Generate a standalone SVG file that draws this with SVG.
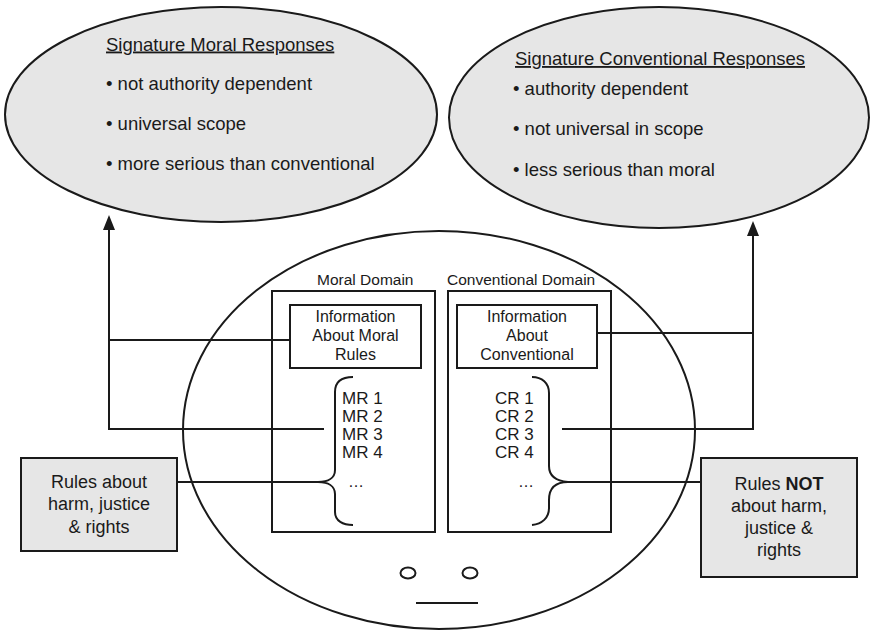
<svg xmlns="http://www.w3.org/2000/svg" width="873" height="630" viewBox="0 0 873 630">
<style>
text{font-family:"Liberation Sans",Arial,sans-serif;fill:#1a1a1a}
.big{font-size:18.5px}
.mid{font-size:16px}
.rule{font-size:17px}
.box{font-size:18px}
.shape{fill:none;stroke:#1a1a1a;stroke-width:2}
.grey{fill:#e6e6e6;stroke:#1a1a1a;stroke-width:2}
.conn{fill:none;stroke:#1a1a1a;stroke-width:2}
.head{fill:#1a1a1a;stroke:none}
</style>
<rect width="873" height="630" fill="#ffffff"/>

<g id="moral-responses">
<ellipse class="grey" cx="221" cy="114.5" rx="216" ry="107.5"/>
<text class="big" x="106" y="50.5" text-decoration="underline">Signature Moral Responses</text>
<text class="big" x="106" y="90">• not authority dependent</text>
<text class="big" x="106" y="130">• universal scope</text>
<text class="big" x="106" y="170">• more serious than conventional</text>
</g>

<g id="conventional-responses">
<ellipse class="grey" cx="659" cy="117.5" rx="210" ry="110.5"/>
<text class="big" x="515" y="65" text-decoration="underline">Signature Conventional Responses</text>
<text class="big" x="513" y="95">• authority dependent</text>
<text class="big" x="513" y="135">• not universal in scope</text>
<text class="big" x="513" y="176">• less serious than moral</text>
</g>

<g id="head">
<ellipse class="shape" cx="439" cy="430" rx="256" ry="199"/>
<ellipse class="shape" cx="408" cy="573" rx="7.5" ry="5.5"/>
<ellipse class="shape" cx="470" cy="573" rx="7.5" ry="5.5"/>
<line class="shape" x1="416" y1="603" x2="478" y2="603"/>
</g>

<g id="moral-domain">
<text class="mid" x="317" y="285" style="font-size:15.5px">Moral Domain</text>
<rect class="shape" x="272" y="291" width="163" height="241"/>
</g>

<g id="moral-info">
<rect class="shape" x="290" y="305" width="131" height="63"/>
<text class="mid" x="355.5" y="321.5" text-anchor="middle">Information</text>
<text class="mid" x="355.5" y="340.5" text-anchor="middle">About Moral</text>
<text class="mid" x="355.5" y="359.5" text-anchor="middle">Rules</text>
</g>

<g id="moral-rules">
<path class="shape" d="M353 377 C343 377 335 381 335 392 L335 470 C335 478 328 482 318 482 C328 482 335 486 335 494 L335 512 C335 521 343 525 353 525"/>
<text class="rule" x="342" y="404">MR 1</text>
<text class="rule" x="342" y="422">MR 2</text>
<text class="rule" x="342" y="440">MR 3</text>
<text class="rule" x="342" y="458">MR 4</text>
<text class="mid" x="348" y="487">…</text>
</g>

<g id="conventional-domain">
<text class="mid" x="447" y="285" style="font-size:15.5px">Conventional Domain</text>
<rect class="shape" x="448" y="291" width="163" height="241"/>
</g>

<g id="conventional-info">
<rect class="shape" x="457" y="305" width="140" height="63"/>
<text class="mid" x="527" y="321.5" text-anchor="middle">Information</text>
<text class="mid" x="527" y="340.5" text-anchor="middle">About</text>
<text class="mid" x="527" y="359.5" text-anchor="middle">Conventional</text>
</g>

<g id="conventional-rules">
<path class="shape" d="M532 377 C542 377 549 383 549 393 L549 466 C549 476 556 481 568 482 C556 482 549 488 549 500 L549 508 C549 518 542 524 532 525"/>
<text class="rule" x="495" y="404">CR 1</text>
<text class="rule" x="495" y="422">CR 2</text>
<text class="rule" x="495" y="440">CR 3</text>
<text class="rule" x="495" y="458">CR 4</text>
<text class="mid" x="518" y="487">…</text>
</g>

<g id="rules-harm">
<rect class="grey" x="21" y="458" width="156" height="93"/>
<text class="box" x="99" y="488" text-anchor="middle">Rules about</text>
<text class="box" x="99" y="510" text-anchor="middle">harm, justice</text>
<text class="box" x="99" y="533" text-anchor="middle">&amp; rights</text>
</g>

<g id="rules-not-harm">
<rect class="grey" x="701" y="458" width="156" height="119"/>
<text class="box" x="779" y="490" text-anchor="middle">Rules <tspan font-weight="bold">NOT</tspan></text>
<text class="box" x="779" y="512" text-anchor="middle">about harm,</text>
<text class="box" x="779" y="534" text-anchor="middle">justice &amp;</text>
<text class="box" x="779" y="556" text-anchor="middle">rights</text>
</g>

<g id="connectors">
<path class="conn" d="M324 429 H109 V228"/>
<polygon class="head" points="109,215 103,230 115,230"/>
<path class="conn" d="M290 340 H109"/>
<path class="conn" d="M562 429 H753 V234"/>
<polygon class="head" points="753,221 747,236 759,236"/>
<path class="conn" d="M597 333 H753"/>
<path class="conn" d="M177 482 H318"/>
<path class="conn" d="M568 482 H701"/>
</g>
</svg>
